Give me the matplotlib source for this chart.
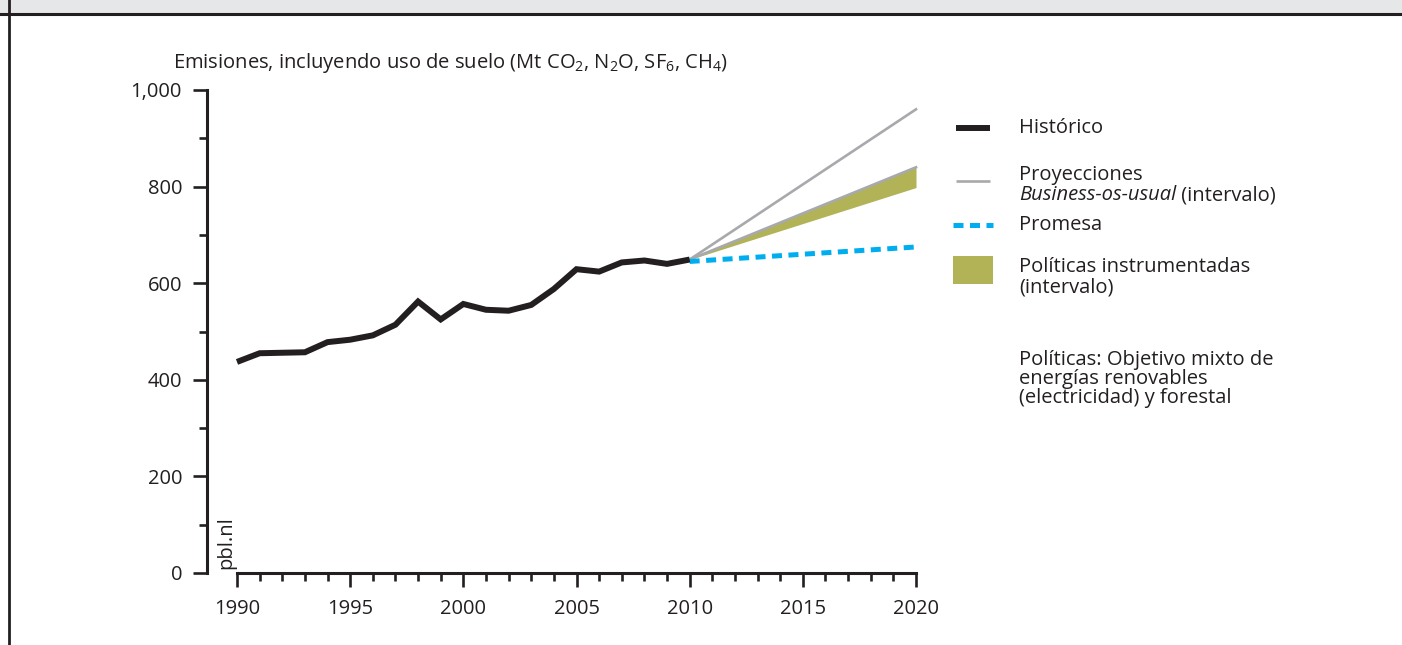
import matplotlib
matplotlib.use("Agg")
import matplotlib.pyplot as plt
from matplotlib.lines import Line2D
from matplotlib.patches import Rectangle
from matplotlib.ticker import FixedLocator, MultipleLocator

plt.rcParams['font.family'] = ['Open Sans', 'DejaVu Sans']
plt.rcParams['mathtext.fontset'] = 'custom'
plt.rcParams['mathtext.rm'] = 'Open Sans'
plt.rcParams['mathtext.it'] = 'Open Sans:italic'

# ---- data -------------------------------------------------------------
hist_years = list(range(1990, 2011))
hist_emissions = [437, 455, 456, 457, 478, 483, 492, 514, 562, 525, 557,
                  545, 543, 555, 588, 629, 624, 643, 647, 640, 649]

proj_years = [2010, 2020]
bau_high = [649, 960]
bau_low = [649, 840]
policy_low = [649, 798]
pledge = [645, 675]

y_ticks = [0, 200, 400, 600, 800, 1000]
y_tick_labels = ['0', '200', '400', '600', '800', '1,000']
x_ticks = [1990, 1995, 2000, 2005, 2010, 2015, 2020]
x_tick_labels = ['1990', '1995', '2000', '2005', '2010', '2015', '2020']

legend_labels = ['Histórico', 'Proyecciones', 'Business-os-usual', '(intervalo)',
                 'Promesa', 'Políticas instrumentadas', '(intervalo)']
note_lines = ['Políticas: Objetivo mixto de', 'energías renovables',
              '(electricidad) y forestal']
y_title = r'Emisiones, incluyendo uso de suelo (Mt CO$_2$, N$_2$O, SF$_6$, CH$_4$)'

# ---- styling ----------------------------------------------------------
INK = '#231f20'
GREY = '#a7a9ac'
BLUE = '#00aeef'
OLIVE = '#b1b356'
FS = 14.5

W, H = 1402, 645
fig = plt.figure(figsize=(W / 100, H / 100), dpi=100)
fig.patch.set_facecolor('white')


def fx(px):
    return px / W


def fy(py):
    return 1 - py / H


# header band and frame
fig.add_artist(Rectangle((0, fy(13)), 1, 13 / H, transform=fig.transFigure,
                         facecolor='#e6e7e8', edgecolor='none', zorder=0))
fig.add_artist(Line2D([0, 1], [fy(13.5), fy(13.5)], transform=fig.transFigure,
                      color=INK, lw=2.2))
fig.add_artist(Line2D([fx(9), fx(9)], [0, 1], transform=fig.transFigure,
                      color=INK, lw=2.0))

ax = fig.add_axes([fx(237), fy(573), fx(916) - fx(237), fy(90) - fy(573)])
ax.set_xlim(1990, 2020)
ax.set_ylim(0, 1000)
ax.set_facecolor('none')

# policy band and projections
ax.fill_between(proj_years, policy_low, bau_low, color=OLIVE, lw=0, zorder=2)
ax.plot(proj_years, bau_high, color=GREY, lw=1.9, zorder=3, clip_on=False)
ax.plot(proj_years, bau_low, color=GREY, lw=1.9, zorder=3, clip_on=False)
ax.plot(proj_years, pledge, color=BLUE, lw=3.6, linestyle=(0, (2.0, 1.3)),
        dash_capstyle='butt', zorder=3, clip_on=False)
ax.plot(hist_years, hist_emissions, color=INK, lw=4.3, zorder=4,
        solid_joinstyle='miter', solid_capstyle='butt', clip_on=False)

# axes
for side in ('top', 'right'):
    ax.spines[side].set_visible(False)
ax.spines['left'].set_position(('outward', 21.6))
ax.spines['left'].set_linewidth(2.2)
ax.spines['bottom'].set_linewidth(2.2)
ax.spines['left'].set_color(INK)
ax.spines['bottom'].set_color(INK)

ax.yaxis.set_major_locator(FixedLocator(y_ticks))
ax.set_yticklabels(y_tick_labels)
ax.yaxis.set_minor_locator(MultipleLocator(100))
ax.xaxis.set_major_locator(FixedLocator(x_ticks))
ax.set_xticklabels(x_tick_labels)
ax.xaxis.set_minor_locator(MultipleLocator(1))

ax.tick_params(axis='both', which='major', direction='out', length=10,
               width=1.9, color=INK, labelcolor=INK, labelsize=FS)
ax.tick_params(axis='both', which='minor', direction='out', length=5.5,
               width=1.9, color=INK)
ax.tick_params(axis='y', which='major', pad=8)
ax.tick_params(axis='x', which='major', pad=9)

# axis title and watermark
fig.text(fx(173), fy(63), y_title, fontsize=FS, color=INK, ha='left',
         va='center')
fig.text(fx(226), fy(569), 'pbl.nl', fontsize=FS, color=INK, rotation=90,
         ha='center', va='bottom')

# legend
fig.add_artist(Line2D([fx(956), fx(990)], [fy(128), fy(128)],
                      transform=fig.transFigure, color=INK, lw=4.3,
                      solid_capstyle='butt'))
fig.add_artist(Line2D([fx(956), fx(990)], [fy(181), fy(181)],
                      transform=fig.transFigure, color=GREY, lw=1.9,
                      solid_capstyle='butt'))
fig.add_artist(Line2D([fx(953), fx(993)], [fy(225), fy(225)],
                      transform=fig.transFigure, color=BLUE, lw=3.6,
                      linestyle=(0, (2.0, 1.3)), dash_capstyle='butt'))
fig.add_artist(Rectangle((fx(953), fy(284)), fx(993) - fx(953), (284 - 256) / H,
                         transform=fig.transFigure, facecolor=OLIVE,
                         edgecolor='none'))

tx = fx(1019)
fig.text(tx, fy(128), legend_labels[0], fontsize=FS, color=INK, va='center')
fig.text(tx, fy(175), legend_labels[1], fontsize=FS, color=INK, va='center')
bau_txt = fig.text(tx, fy(195), legend_labels[2], fontsize=FS, color=INK,
                   va='center', style='italic')
ax.annotate(' ' + legend_labels[3], xy=(1, 0.5), xycoords=bau_txt,
            va='center', ha='left', fontsize=FS, color=INK,
            annotation_clip=False)
fig.text(tx, fy(225), legend_labels[4], fontsize=FS, color=INK, va='center')
fig.text(tx, fy(267), legend_labels[5], fontsize=FS, color=INK, va='center')
fig.text(tx, fy(287), legend_labels[6], fontsize=FS, color=INK, va='center')

for i, line in enumerate(note_lines):
    fig.text(tx, fy(360 + 19 * i), line, fontsize=FS, color=INK, va='center')

fig.savefig('out.png', dpi=100, facecolor='white')
